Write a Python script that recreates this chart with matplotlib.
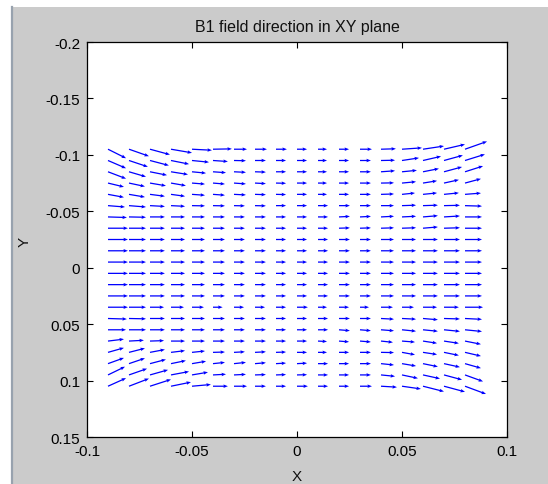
import matplotlib
matplotlib.use('Agg')
import matplotlib.pyplot as plt
from matplotlib.patches import Rectangle
from matplotlib.lines import Line2D
import numpy as np

plt.rcParams['font.family'] = ['Liberation Sans', 'DejaVu Sans']
plt.rcParams['axes.unicode_minus'] = False

# ---------------- data ----------------
title = "B1 field direction in XY plane"
x_label = "X"
y_label = "Y"

# grid positions (arrow tails)
x_values = [-0.09, -0.08, -0.07, -0.06, -0.05, -0.04, -0.03, -0.02, -0.01,
            0.0, 0.01, 0.02, 0.03, 0.04, 0.05, 0.06, 0.07, 0.08]
y_values = [-0.105, -0.095, -0.085, -0.075, -0.065, -0.055, -0.045, -0.035,
            -0.025, -0.015, -0.005, 0.005, 0.015, 0.025, 0.035, 0.045,
            0.055, 0.065, 0.075, 0.085, 0.095, 0.105]

# x components (thousandths), one row per y value
U_rows = [
    [8.6, 9.5, 9.5, 10.0, 9.5, 9.0, 6.2, 5.7, 5.2, 4.8, 4.3, 4.8, 5.7, 7.1, 9.5, 10.0, 10.0, 10.5],
    [8.6, 9.0, 9.0, 8.6, 8.1, 7.1, 5.7, 5.2, 4.8, 4.8, 4.3, 4.8, 5.2, 6.7, 8.1, 8.6, 9.0, 9.5],
    [8.6, 8.1, 8.1, 8.1, 6.7, 6.2, 5.7, 5.2, 4.8, 4.8, 4.3, 4.8, 5.2, 6.7, 7.1, 7.6, 8.6, 8.6],
    [7.6, 7.6, 7.6, 7.1, 6.2, 5.7, 5.7, 5.2, 4.8, 4.8, 4.3, 4.8, 5.2, 6.2, 6.7, 6.7, 7.1, 7.6],
    [7.6, 7.6, 7.1, 6.7, 6.2, 5.7, 5.7, 5.2, 4.8, 4.8, 4.3, 4.8, 5.2, 6.2, 6.2, 6.7, 7.1, 7.6],
    [8.1, 8.1, 7.1, 6.7, 6.2, 5.7, 5.2, 5.2, 4.8, 4.8, 4.8, 5.2, 5.2, 6.2, 6.7, 7.1, 7.6, 8.1],
    [9.0, 8.1, 7.1, 6.7, 6.2, 5.7, 5.2, 5.2, 4.8, 4.8, 4.8, 5.2, 5.2, 6.2, 6.7, 7.1, 7.6, 8.1],
    [9.5, 8.1, 7.1, 6.7, 6.2, 5.7, 5.2, 5.2, 4.8, 4.8, 4.8, 5.2, 5.2, 6.2, 6.7, 7.1, 7.6, 8.1],
    [9.5, 8.1, 7.1, 6.7, 6.2, 5.7, 5.2, 5.2, 4.8, 4.8, 4.8, 5.2, 5.2, 6.2, 6.7, 7.1, 7.6, 8.1],
    [9.5, 8.1, 7.1, 6.7, 6.2, 5.7, 5.2, 5.2, 4.8, 4.8, 4.8, 5.2, 5.2, 6.2, 6.7, 7.1, 7.6, 8.1],
    [9.5, 8.1, 7.1, 6.7, 6.2, 5.7, 5.2, 5.2, 4.8, 4.8, 4.8, 5.2, 5.2, 6.2, 6.7, 7.1, 7.6, 8.1],
    [9.5, 8.1, 7.1, 6.7, 6.2, 5.7, 5.2, 5.2, 4.8, 4.8, 4.8, 5.2, 5.2, 6.2, 6.7, 7.1, 7.6, 8.1],
    [9.5, 8.1, 7.1, 6.7, 6.2, 5.7, 5.2, 5.2, 4.8, 4.8, 4.8, 5.2, 5.2, 6.2, 6.7, 7.1, 7.6, 8.1],
    [9.5, 8.1, 7.1, 6.7, 6.2, 5.7, 5.2, 5.2, 4.8, 4.8, 4.8, 5.2, 5.2, 6.2, 6.7, 7.1, 7.6, 8.1],
    [9.5, 8.1, 6.7, 6.2, 5.7, 4.6, 4.8, 4.8, 4.8, 5.2, 4.3, 4.8, 4.3, 5.7, 5.7, 6.7, 7.1, 8.6],
    [9.0, 8.1, 7.1, 6.7, 6.2, 5.7, 5.2, 5.2, 4.8, 4.8, 4.8, 5.2, 5.2, 6.2, 6.7, 7.1, 7.6, 8.1],
    [8.6, 8.1, 7.1, 6.7, 6.2, 5.7, 5.2, 5.2, 4.8, 4.8, 4.8, 5.2, 5.2, 6.2, 6.7, 7.1, 7.6, 8.1],
    [7.6, 7.1, 6.7, 6.7, 6.2, 5.7, 5.2, 5.2, 4.8, 4.8, 4.3, 4.8, 5.2, 5.7, 6.2, 6.7, 7.1, 7.6],
    [7.6, 7.6, 7.1, 6.7, 6.2, 5.7, 5.2, 5.2, 4.8, 4.8, 4.3, 4.8, 5.2, 6.2, 6.2, 6.7, 7.1, 7.6],
    [7.6, 7.6, 7.6, 7.1, 6.7, 5.7, 5.7, 5.2, 4.8, 4.8, 4.8, 4.8, 5.2, 6.2, 6.7, 7.1, 7.6, 7.6],
    [8.1, 8.6, 8.6, 8.6, 7.6, 6.2, 5.7, 5.2, 4.8, 4.8, 4.8, 4.8, 5.2, 6.7, 7.6, 8.1, 8.6, 8.6],
    [8.6, 9.5, 10.0, 9.5, 9.0, 7.1, 6.2, 5.2, 4.8, 5.2, 4.8, 4.8, 5.7, 7.6, 9.0, 10.0, 10.0, 10.0],
]

# y components (thousandths), one row per y value
V_rows = [
    [8.0, 6.2, 4.8, 3.2, 0.9, -0.3, 0, 0, 0, 0, 0, 0, 0, -0.4, -1.2, -2.8, -4.3, -6.9],
    [6.9, 5.6, 4.4, 3.2, 1.5, 0.9, 0.2, 0, 0, 0, 0, 0, 0, -0.25, -2.3, -3.7, -4.6, -5.5],
    [6.1, 4.4, 3.0, 2.4, 1.2, 0.8, 0.5, 0.3, 0, 0, 0, 0, 0, -0.9, -1.3, -2.8, -4.3, -5.1],
    [3.4, 3.0, 2.4, 2.3, 0.9, 0.85, 0.75, 0.5, 0.2, 0, 0, 0, 0, -0.2, -1.2, -2.0, -2.9, -3.8],
    [2.6, 2.4, 1.7, 1.7, 0.8, 0.75, 0.5, 0.3, 0.2, 0, 0, 0, 0, -0.35, -1.2, -1.25, -1.3, -1.1],
    [1.2, 1.2, 0.7, 0.6, 0.2, 0.2, 0.2, 0.2, 0, 0, 0, 0, 0, 0, -0.4, -0.4, -0.3, 0.45],
    [0.5, 0.3, 0, 0, 0, 0, 0, 0, 0, 0, 0, -0.5, -0.5, -0.6, -0.6, -1.1, -0.85, 0],
    [0, 0, 0, 0, 0, 0, 0, 0, 0, 0, 0, -0.3, -0.3, -0.35, -0.4, -1.1, -0.4, 0],
    [0, 0, 0, 0, 0, 0, 0, 0, 0, 0, 0, 0, 0, 0, 0, 0, 0, 0],
    [0, 0, 0, 0, 0, 0, 0, 0, 0, 0, 0, 0, 0, 0, 0, 0, 0, 0],
    [0, 0, 0, 0, 0, 0, 0, 0, 0, 0, 0, 0, 0, 0, 0, 0, 0, 0],
    [0, 0, 0, 0, 0, 0, 0, 0, 0, 0, 0, 0, 0, 0, 0, 0, 0, 0],
    [0, 0, 0, 0, 0, 0, 0, 0, 0, 0, 0, 0, 0, 0, 0, 0, 0, 0],
    [0, 0, 0, 0, 0, 0, 0, 0, 0, 0, 0, 0, 0, 0, 0, 0, 0, 0],
    [0, 0, 0, 0, 0, 0, 0, 0, 0, 0, 0, 0, 0, 0, 0, 0, 0, 0],
    [0.5, 0.3, 0, 0, 0, 0, 0, 0, 0, 0, 0, 0, 0, 0.6, 0.6, 1.1, 0.4, 0.75],
    [0, 0, 0, 0, 0, 0, 0, 0, 0, 0, 0, 0.8, 0.8, 0.9, 1.25, 1.3, 1.4, 1.5],
    [-1.7, -0.7, -0.4, 0, 0, 0, 0, 0, 0, 0, 0.4, 0.7, 0.8, 1.1, 0.9, 1.9, 2.0, 2.8],
    [-4.0, -3.6, -2.5, -1.5, -1.2, -0.3, -0.5, -0.5, -0.3, 0, 0, 0, 0, 0.2, 2.1, 1.9, 2.7, 3.3],
    [-5.1, -4.8, -3.7, -2.7, -2.1, -1.1, -1.1, -0.8, -0.5, -0.45, 0, 0, 0, 1.2, 2.1, 2.7, 3.1, 4.0],
    [-7.3, -5.6, -4.5, -3.0, -2.4, -0.6, -0.5, -0.3, -0.3, -0.2, 0, 0, 0, 1.25, 3.0, 3.3, 4.3, 5.8],
    [-7.2, -6.8, -6.0, -3.6, -1.5, 0, 0, 0, 0, 0, 0, 0, 0, 0.85, 2.4, 4.7, 5.0, 6.9],
]

x_ticks = [-0.1, -0.05, 0, 0.05, 0.1]
x_tick_labels = ["-0.1", "-0.05", "0", "0.05", "0.1"]
y_ticks = [-0.2, -0.15, -0.1, -0.05, 0, 0.05, 0.1, 0.15]
y_tick_labels = ["-0.2", "-0.15", "-0.1", "-0.05", "0", "0.05", "0.1", "0.15"]

# ---------------- figure ----------------
W, H = 548, 485
fig = plt.figure(figsize=(W / 100, H / 100), dpi=100, facecolor='#cbcbcb')

# window-like borders (white strips + dark edge line)
fig.patches.append(Rectangle((0, 0), 11 / W, 1, transform=fig.transFigure,
                             facecolor='white', edgecolor='none', zorder=0))
fig.patches.append(Rectangle((0, 1 - 8 / H), 1, 8 / H, transform=fig.transFigure,
                             facecolor='white', edgecolor='none', zorder=0))
fig.lines.append(Line2D([12 / W, 12 / W], [0, 1 - 8 / H], transform=fig.transFigure,
                        color='#98a2ae', linewidth=1.6))

ax_left, ax_right, ax_top, ax_bottom = 87, 507, 43, 438
ax = fig.add_axes([ax_left / W, 1 - ax_bottom / H,
                   (ax_right - ax_left) / W, (ax_bottom - ax_top) / H])
ax.set_facecolor('white')

X, Y = np.meshgrid(np.array(x_values), np.array(y_values))
U = np.array(U_rows) / 1000.0
V = np.array(V_rows) / 1000.0

ax.quiver(X, Y, U, V, angles='xy', scale_units='xy', scale=1, pivot='tail',
          color='#0000ff', width=0.003, headwidth=2.8, headlength=3.6,
          headaxislength=3.2, zorder=3)

ax.set_xlim(-0.1, 0.1)
ax.set_ylim(0.15, -0.2)
ax.set_xticks(x_ticks)
ax.set_xticklabels(x_tick_labels)
ax.set_yticks(y_ticks)
ax.set_yticklabels(y_tick_labels)
ax.tick_params(direction='in', length=4, width=0.8, top=True, right=True,
               labelsize=11, colors='black', pad=5)
for s in ax.spines.values():
    s.set_linewidth(0.9)
    s.set_color('black')

fig.text((ax_left + ax_right) / 2 / W, 1 - 32 / H, title, ha='center',
         va='baseline', fontsize=11.5, color='#111111')
fig.text((ax_left + ax_right) / 2 / W, 1 - 481 / H, x_label, ha='center',
         va='baseline', fontsize=11, color='#111111')
fig.text(25 / W, 1 - 242 / H, y_label, ha='center', va='center',
         rotation=90, fontsize=11, color='#111111')

fig.savefig('out.png', dpi=100, facecolor=fig.get_facecolor())
